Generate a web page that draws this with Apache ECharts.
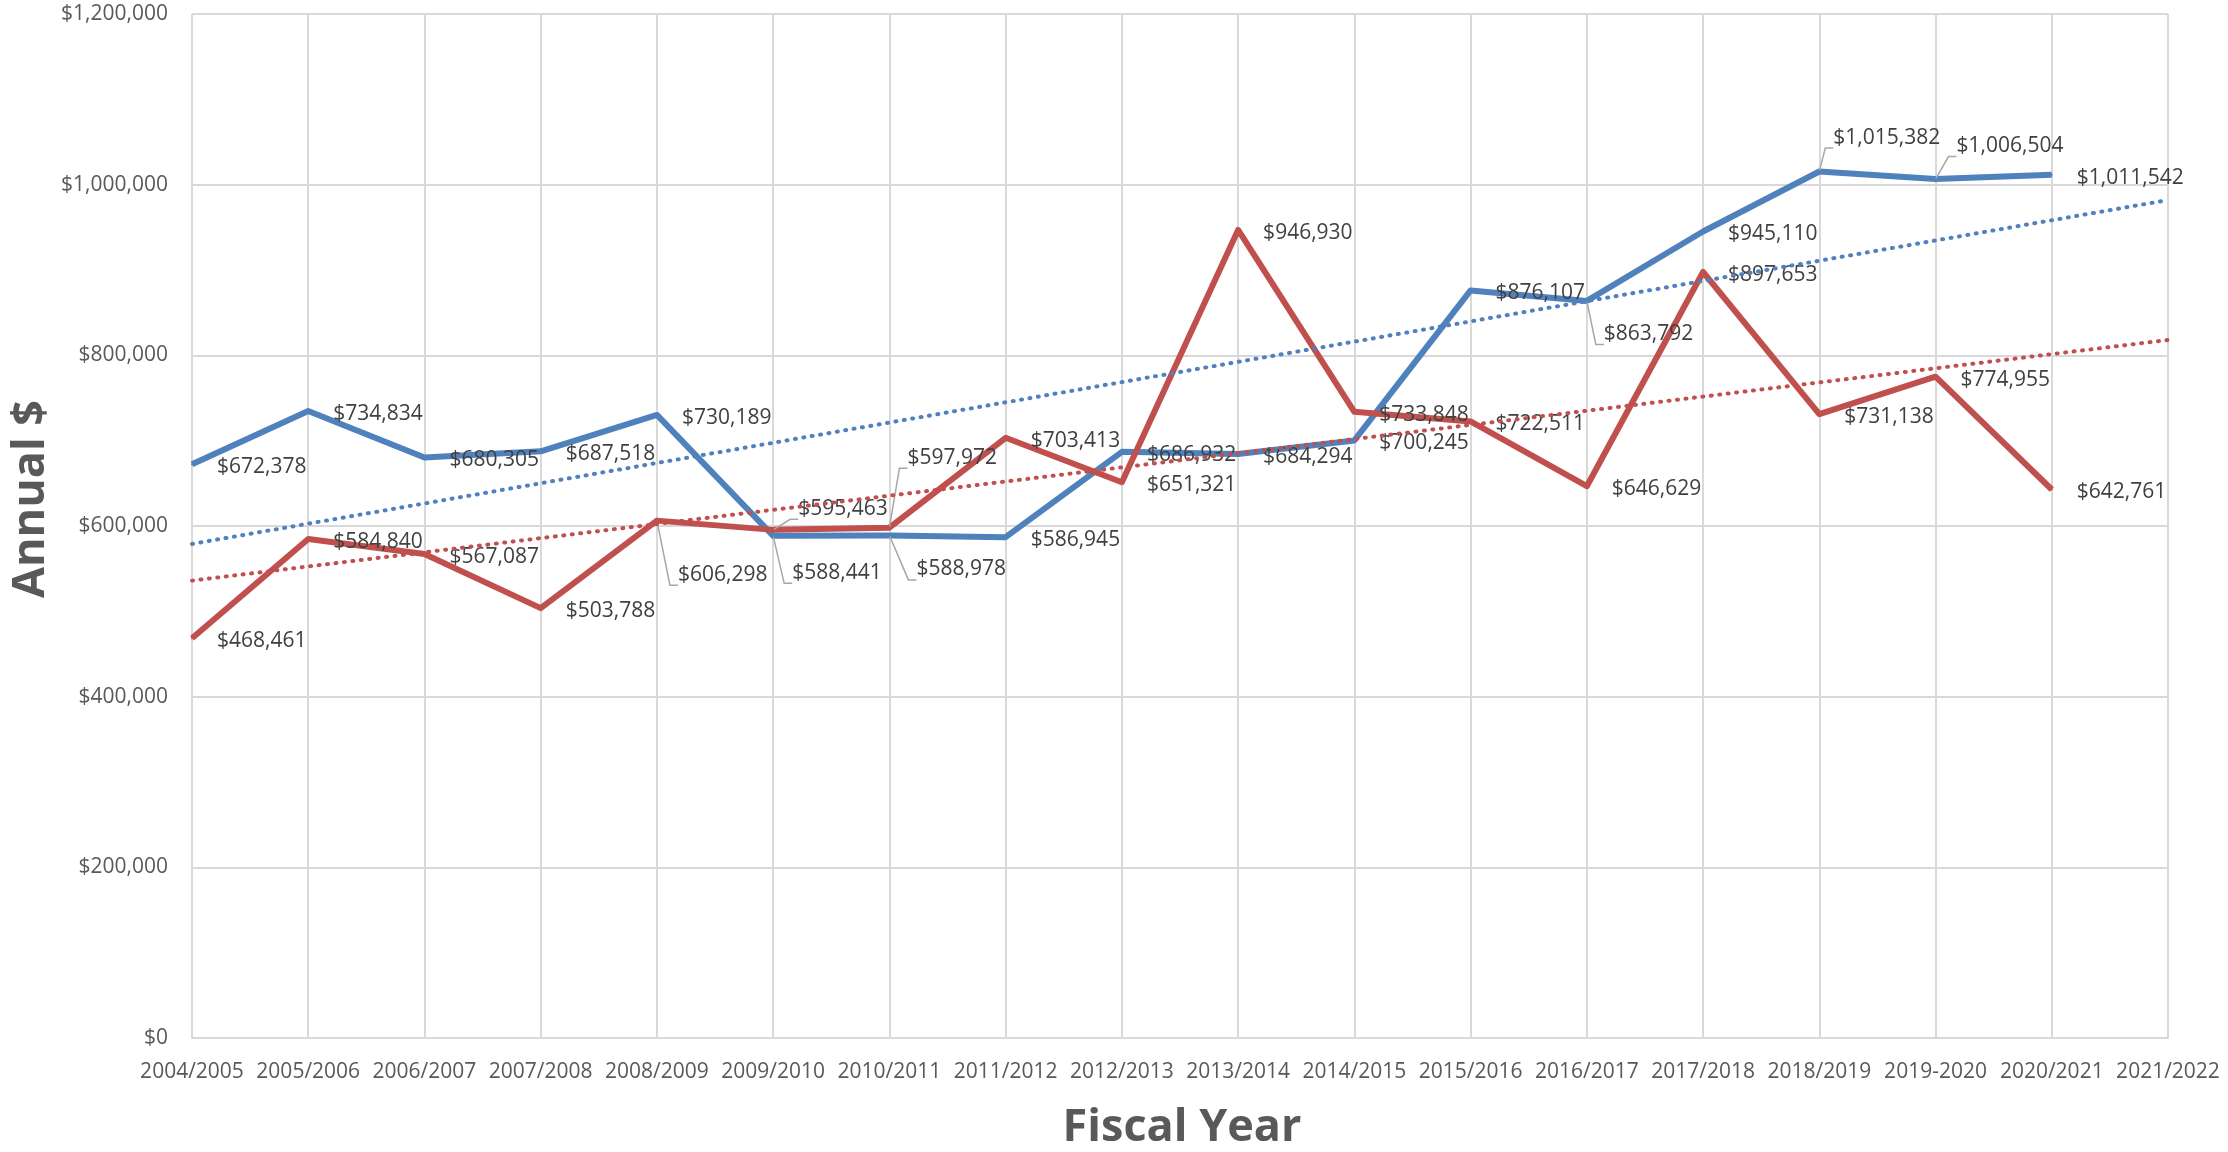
<!DOCTYPE html>
<html>
<head>
<meta charset="utf-8">
<script src="https://cdn.jsdelivr.net/npm/echarts@6/dist/echarts.min.js"></script>
<style>
  html, body { margin: 0; padding: 0; background: #ffffff; }
  #chart { width: 2228px; height: 1152px; }
</style>
</head>
<body>
<div id="chart"></div>
<script>
// ---- Data ----
const categories = ['2004/2005','2005/2006','2006/2007','2007/2008','2008/2009','2009/2010','2010/2011','2011/2012','2012/2013','2013/2014','2014/2015','2015/2016','2016/2017','2017/2018','2018/2019','2019-2020','2020/2021','2021/2022'];
const blueValues = [672378, 734834, 680305, 687518, 730189, 588441, 588978, 586945, 686932, 684294, 700245, 876107, 863792, 945110, 1015382, 1006504, 1011542];
const redValues  = [468461, 584840, 567087, 503788, 606298, 595463, 597972, 703413, 651321, 946930, 733848, 722511, 646629, 897653, 731138, 774955, 642761];
// Trendline end values (first and last category)
const blueTrendEnds = [579000, 982000];
const redTrendEnds  = [536000, 818000];
const yTicks = [0, 200000, 400000, 600000, 800000, 1000000, 1200000];

// ---- Style / layout (kept apart from data) ----
const BLUE = '#4F81BD', RED = '#C0504D';
const FONT = 'Open Sans';
// manual label moves (with leader lines), by data index
const blueMoves = { 5: [-6, 37], 6: [2, 34], 12: [-8, 33], 14: [-11, -34], 15: [-4, -33] };
const redMoves  = { 4: [-4, 54], 5: [0, -21], 6: [-7, -70] };

const fmt = v => '$' + Math.round(v).toLocaleString('en-US');

function buildData(values, moves) {
  return values.map((v, i) => {
    const item = { value: v };
    if (moves[i]) {
      item.label = { offset: moves[i] };
      item.labelLine = { show: true };
    }
    return item;
  });
}
function trendData(ends) {
  const arr = categories.map(() => null);
  arr[0] = ends[0];
  arr[categories.length - 1] = ends[1];
  return arr;
}

const labelCommon = {
  show: true,
  position: 'right',
  distance: 24,
  offset: [0, 3],
  color: '#404040',
  fontFamily: FONT,
  fontSize: 21,
  formatter: p => fmt(p.value)
};
const labelLineCommon = {
  show: false,
  length2: 8,
  lineStyle: { color: '#A6A6A6', width: 1.5 }
};

const chart = echarts.init(document.getElementById('chart'), null, { renderer: 'canvas' });
chart.setOption({
  animation: false,
  backgroundColor: '#ffffff',
  grid: { left: 192, right: 60, top: 14, bottom: 114, containLabel: false },
  xAxis: {
    type: 'category',
    data: categories,
    boundaryGap: false,
    axisLine: { show: true, lineStyle: { color: '#D9D9D9', width: 2 } },
    axisTick: { show: false },
    axisLabel: { interval: 0, margin: 24, color: '#595959', fontFamily: FONT, fontSize: 21 },
    splitLine: { show: true, interval: 0, lineStyle: { color: '#D9D9D9', width: 2 } }
  },
  yAxis: {
    type: 'value',
    min: yTicks[0],
    max: yTicks[yTicks.length - 1],
    interval: yTicks[1] - yTicks[0],
    axisLine: { show: false },
    axisTick: { show: false },
    axisLabel: { margin: 24, color: '#595959', fontFamily: FONT, fontSize: 21, formatter: v => fmt(v) },
    splitLine: { show: true, lineStyle: { color: '#D9D9D9', width: 2 } }
  },
  graphic: [
    {
      type: 'text', x: 31, y: 499, rotation: Math.PI / 2,
      style: { text: 'Annual $', fill: '#595959', font: 'bold 45px "Open Sans"', align: 'center', verticalAlign: 'middle' }
    },
    {
      type: 'text', x: 1182, y: 1128,
      style: { text: 'Fiscal Year', fill: '#595959', font: 'bold 45px "Open Sans"', align: 'center', verticalAlign: 'middle' }
    }
  ],
  series: [
    {
      name: 'Blue', type: 'line', z: 2,
      data: buildData(blueValues, blueMoves),
      symbol: 'circle', symbolSize: 2,
      itemStyle: { color: BLUE },
      lineStyle: { color: BLUE, width: 6, join: 'round' },
      label: labelCommon,
      labelLine: labelLineCommon
    },
    {
      name: 'Red', type: 'line', z: 2,
      data: buildData(redValues, redMoves),
      symbol: 'circle', symbolSize: 2,
      itemStyle: { color: RED },
      lineStyle: { color: RED, width: 6, join: 'round' },
      label: labelCommon,
      labelLine: labelLineCommon
    },
    {
      name: 'Blue trend', type: 'line', z: 3,
      data: trendData(blueTrendEnds), connectNulls: true,
      symbol: 'none', silent: true,
      lineStyle: { color: BLUE, width: 4, type: [1, 7.5], cap: 'round' }
    },
    {
      name: 'Red trend', type: 'line', z: 3,
      data: trendData(redTrendEnds), connectNulls: true,
      symbol: 'none', silent: true,
      lineStyle: { color: RED, width: 4, type: [1, 7.5], cap: 'round' }
    }
  ]
});
</script>
</body>
</html>
